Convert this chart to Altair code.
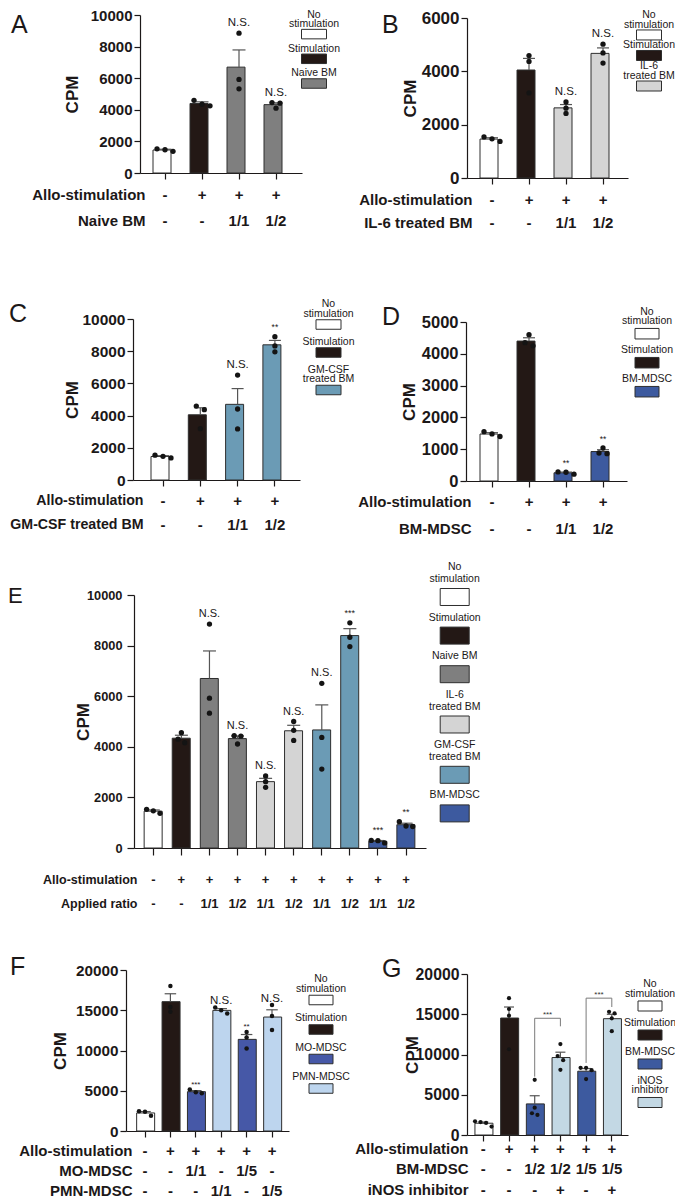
import json
import math
import altair as alt
import pandas as pd

# ---------------- values ----------------
A_groups = ["No stimulation", "Stimulation", "Naive BM", "Naive BM"]
A_values = [[1530, 1470, 1370], [4600, 4350, 4250], [8850, 5920, 5330], [4460, 4420, 4100]]
A_rows = [["-", "+", "+", "+"], ["-", "-", "1/1", "1/2"]]
A_header = ["Allo-stimulation", "Naive BM"]
A_sig = ["", "", "N.S.", "N.S."]
A_ticks = [0, 2000, 4000, 6000, 8000, 10000]
A_legend = ["No stimulation", "Stimulation", "Naive BM"]

B_groups = ["No stimulation", "Stimulation", "IL-6 treated BM", "IL-6 treated BM"]
B_values = [[1540, 1470, 1370], [4590, 4370, 3190], [2850, 2620, 2420], [5020, 4690, 4310]]
B_rows = [["-", "+", "+", "+"], ["-", "-", "1/1", "1/2"]]
B_header = ["Allo-stimulation", "IL-6 treated BM"]
B_sig = ["", "", "N.S.", "N.S."]
B_ticks = [0, 2000, 4000, 6000]
B_legend = ["No stimulation", "Stimulation", "IL-6 treated BM"]

C_groups = ["No stimulation", "Stimulation", "GM-CSF treated BM", "GM-CSF treated BM"]
C_values = [[1540, 1470, 1370], [4590, 4370, 3190], [6520, 4410, 3170], [8900, 8330, 7960]]
C_rows = [["-", "+", "+", "+"], ["-", "-", "1/1", "1/2"]]
C_header = ["Allo-stimulation", "GM-CSF treated BM"]
C_sig = ["", "", "N.S.", "**"]
C_ticks = [0, 2000, 4000, 6000, 8000, 10000]
C_legend = ["No stimulation", "Stimulation", "GM-CSF treated BM"]

D_groups = ["No stimulation", "Stimulation", "BM-MDSC", "BM-MDSC"]
D_values = [[1550, 1480, 1400], [4600, 4350, 4250], [285, 275, 215], [1040, 880, 860]]
D_rows = [["-", "+", "+", "+"], ["-", "-", "1/1", "1/2"]]
D_header = ["Allo-stimulation", "BM-MDSC"]
D_sig = ["", "", "**", "**"]
D_ticks = [0, 1000, 2000, 3000, 4000, 5000]
D_legend = ["No stimulation", "Stimulation", "BM-MDSC"]

E_groups = ["No stimulation", "Stimulation", "Naive BM", "Naive BM", "IL-6 treated BM",
            "IL-6 treated BM", "GM-CSF treated BM", "GM-CSF treated BM", "BM-MDSC", "BM-MDSC"]
E_values = [[1530, 1470, 1370], [4560, 4300, 4160], [8850, 5920, 5330], [4440, 4420, 4110],
            [2850, 2620, 2400], [5000, 4650, 4250], [6510, 4370, 3120], [8900, 8330, 7960],
            [300, 290, 200], [1040, 870, 850]]
E_rows = [["-", "+", "+", "+", "+", "+", "+", "+", "+", "+"],
          ["-", "-", "1/1", "1/2", "1/1", "1/2", "1/1", "1/2", "1/1", "1/2"]]
E_header = ["Allo-stimulation", "Applied ratio"]
E_sig = ["", "", "N.S.", "N.S.", "N.S.", "N.S.", "N.S.", "***", "***", "**"]
E_ticks = [0, 2000, 4000, 6000, 8000, 10000]
E_legend = ["No stimulation", "Stimulation", "Naive BM", "IL-6 treated BM",
            "GM-CSF treated BM", "BM-MDSC"]

F_groups = ["No stimulation", "Stimulation", "MO-MDSC", "PMN-MDSC", "MO-MDSC", "PMN-MDSC"]
F_values = [[2450, 2380, 1900], [18000, 15400, 14800], [5150, 4800, 4700],
            [15350, 15000, 14600], [12300, 11600, 10250], [15650, 14280, 12540]]
F_rows = [["-", "+", "+", "+", "+", "+"],
          ["-", "-", "1/1", "-", "1/5", "-"],
          ["-", "-", "-", "1/1", "-", "1/5"]]
F_header = ["Allo-stimulation", "MO-MDSC", "PMN-MDSC"]
F_sig = ["", "", "***", "N.S.", "**", "N.S."]
F_ticks = [0, 5000, 10000, 15000, 20000]
F_legend = ["No stimulation", "Stimulation", "MO-MDSC", "PMN-MDSC"]

G_groups = ["No stimulation", "Stimulation", "BM-MDSC", "iNOS inhibitor", "BM-MDSC", "iNOS inhibitor"]
G_values = [[1700, 1600, 1500, 1050], [17000, 15650, 14820, 10650], [6850, 3400, 2700, 2500],
            [11300, 9800, 9300, 8100], [8350, 8350, 8050, 6950], [15300, 15100, 14500, 12900]]
G_rows = [["-", "+", "+", "+", "+", "+"],
          ["-", "-", "1/2", "1/2", "1/5", "1/5"],
          ["-", "-", "-", "+", "-", "+"]]
G_header = ["Allo-stimulation", "BM-MDSC", "iNOS inhibitor"]
G_sig = ["", "", "", "", "", ""]
G_ticks = [0, 5000, 10000, 15000, 20000]
G_legend = ["No stimulation", "Stimulation", "BM-MDSC", "iNOS inhibitor"]
G_pair_left = [2, 4]
G_pair_right = [3, 5]
G_pair_top = [14500, 17000]
G_pair_left_end = [7250, 8950]
G_pair_right_end = [13500, 15900]
G_pair_sig = ["***", "***"]

LABELS = {
    "No stimulation": ["No", "stimulation"],
    "IL-6 treated BM": ["IL-6", "treated BM"],
    "GM-CSF treated BM": ["GM-CSF", "treated BM"],
    "iNOS inhibitor": ["iNOS", "inhibitor"],
}

# ---------------- styles / layout ----------------
CW, CH = 667, 1191          # drawing area; page coordinate = chart coordinate + 8
FONT = "Liberation Sans"
INK = "#1c1818"
EDGE = "#2e2e2e"
ERR = "#555555"
DOT = "#141414"
COLORS = {
    "No stimulation": "#ffffff",
    "Stimulation": "#231815",
    "Naive BM": "#7f7f7f",
    "IL-6 treated BM": "#d4d4d4",
    "GM-CSF treated BM": "#6b9bb5",
    "BM-MDSC": "#3d5a9f",
    "MO-MDSC": "#4658a7",
    "PMN-MDSC": "#bdd5ee",
    "iNOS inhibitor": "#c3d8e4",
}

BASE = dict(lfs=25, ytk=6, ylp=2, xtk=6, hfs=15, xfs=15, tfs=17, nfs=11.5, sfs=8.5, legfs=10.5)
LAY = {
    "A": dict(BASE, L=140, R=302, T=15, Bt=173, c1=165, step=37, bw=24, ymax=10000, yfs=15,
              ytx=-67.5, row1=194, ls=26, hdx=5, ldx=-129, lbase=18, d=5.3, dstep=8, th=5,
              cap=13, ndy=7, legcx=314, box=(25, 9.5), lstart=6.3, lh=9.5, g1=11.5, g2=16.6),
    "B": dict(BASE, L=467, R=628, T=18, Bt=178, c1=492, step=37, bw=24, ymax=6000, yfs=17,
              ytx=-56.7, row1=199, ls=23, hdx=5, ldx=-85, lbase=15, d=5.3, dstep=8, th=5,
              cap=12, ndy=7, legcx=649, box=(25, 10), lstart=4.5, lh=10, g1=12.5, g2=12),
    "C": dict(BASE, L=133, R=300, T=319, Bt=480, c1=163, step=37.3, bw=24, ymax=10000, yfs=15.5,
              ytx=-60.5, row1=500, ls=24, hdx=10, hfs=14.2, ldx=-124, lbase=3, d=5.3, dstep=8,
              th=5, cap=12, ndy=7, legcx=328.5, box=(25, 9.5), lstart=304, lh=9.5, g1=11, g2=17),
    "D": dict(BASE, L=466, R=627, T=322, Bt=481, c1=492, step=37, bw=24, ymax=5000, yfs=16.5,
              ytx=-56.3, row1=501.7, ls=26.6, hdx=5, ldx=-84, lbase=3, d=5.3, dstep=8, th=5,
              cap=12, ndy=5.5, legcx=647, box=(24, 10.5), lstart=311.7, lh=9.5, g1=12.5, g2=16.5),
    "E": dict(BASE, L=134, R=426, T=595, Bt=848, c1=153.3, step=28.08, bw=18.3, ymax=10000,
              yfs=12.8, lfs=22, ytk=7, ylp=5, xtk=7, xfs=13, hfs=12.5, nfs=11, sfs=9,
              ytx=-50.2, row1=879.3, ls=23.4, hdx=3, ldx=-126, lbase=8, d=5.3, dstep=6.7, th=5,
              cap=13, ndy=7, legcx=454.7, box=(29, 17), legfs=10.5, lstart=567.3, lh=11.7,
              g1=18, g2=20.6),
    "F": dict(BASE, L=126, R=289, T=970, Bt=1131, c1=145, step=25.4, bw=16.7, ymax=20000,
              yfs=15.3, ytx=-65.2, row1=1150.5, ls=20, hdx=6, ldx=-116, lbase=5, d=4.5,
              dstep=6, th=4.5, cap=11.5, ndy=3, sfs=8, legcx=321, box=(24, 9.5), lstart=979,
              lh=9.5, g1=11.5, g2=18),
    "G": dict(BASE, L=467, R=628, T=974, Bt=1135, c1=483.3, step=25.7, bw=16.7, ymax=20000,
              yfs=15.8, ytx=-54.2, row1=1148.3, ls=20.4, hdx=1, ldx=-85, lbase=3, d=4.2,
              dstep=5.5, th=4.5, cap=10, ndy=3, legcx=650, box=(24, 10), lstart=984,
              lh=9.5, g1=12.5, g2=16.5),
}


def spread(vals, ymax, h, th, step):
    """Horizontal offsets (px) so that overlapping dots sit side by side."""
    px = [v / ymax * h for v in vals]
    order = sorted(range(len(vals)), key=lambda k: -vals[k])
    clusters = []
    for k in order:
        if clusters and px[clusters[-1][-1]] - px[k] < th:
            clusters[-1].append(k)
        else:
            clusters.append([k])
    off = [0.0] * len(vals)
    for cl in clusters:
        m = len(cl)
        for j, k in enumerate(cl):
            off[k] = (j - (m - 1) / 2) * step
    return off


def panel(key, groups, values, rows, header, sig, ticks, pairs=None):
    lay = LAY[key]
    n = len(values)
    x0, x1 = lay["L"] - 8, lay["R"] - 8
    ytop, ybot = lay["T"] - 8, lay["Bt"] - 8
    W, H = x1 - x0, ybot - ytop
    step, bw = lay["step"], lay["bw"]
    p = 1 - bw / step
    o = (W / step - n + p) / 2
    left = W - step * (n - p)
    a = min(max((lay["c1"] - lay["L"] - bw / 2) / left, 0), 1)
    ymax = lay["ymax"]

    bars, dots, notes = [], [], []
    for i, (g, vals) in enumerate(zip(groups, values)):
        m = sum(vals) / len(vals)
        sd = math.sqrt(sum((v - m) ** 2 for v in vals) / (len(vals) - 1))
        se = sd / math.sqrt(len(vals))
        bars.append({"i": i, "mean": m, "top": m + se, "fill": COLORS[g]})
        for v, of in zip(vals, spread(vals, ymax, H, lay["th"], lay["dstep"])):
            dots.append({"i": i, "v": v, "off": of})
        if sig[i]:
            notes.append({"i": i, "y": max(max(vals), m + se), "t": sig[i],
                          "fs": lay["nfs"] if sig[i].startswith("N") else lay["sfs"]})

    labels = [[r[i] for r in rows] for i in range(n)]
    xfs = lay["xfs"]
    center = round(0.79 * xfs) - 0.35 * xfs
    lp = lay["row1"] - lay["Bt"] - center - lay["xtk"]

    xaxis = alt.Axis(
        orient="bottom", offset=ybot - CH,
        labelExpr=json.dumps(labels) + "[datum.value]", labelAngle=0, labelFont=FONT,
        labelFontSize=xfs, labelFontWeight="bold", labelColor=INK, labelLineHeight=lay["ls"],
        labelPadding=lp, labelOverlap=False, labelBaseline="top", tickSize=lay["xtk"],
        tickWidth=1.2, tickColor=INK, domainColor=INK, domainWidth=1.2, grid=False,
        title=header, titleFont=FONT, titleFontSize=lay["hfs"], titleFontWeight="bold",
        titleColor=INK, titleAlign="right", titleAngle=0, titleBaseline="top",
        titleX=x0 + lay["hdx"], titleY=lay["xtk"] + lp, titleLineHeight=lay["ls"])
    yaxis = alt.Axis(
        orient="left", offset=-x0,
        values=ticks, format="d", labelFont=FONT, labelFontSize=lay["yfs"],
        labelFontWeight="bold", labelColor=INK, labelPadding=lay["ylp"], labelOverlap=False,
        tickSize=lay["ytk"], tickWidth=1.2, tickColor=INK, domainColor=INK, domainWidth=1.2,
        grid=False, title="CPM", titleFont=FONT, titleFontSize=lay["tfs"],
        titleFontWeight="bold", titleColor=INK, titleAngle=270, titleAlign="center",
        titleBaseline="middle", titleX=lay["ytx"], titleY=ytop + H / 2)

    X = alt.X("i:O", scale=alt.Scale(range=[x0, x1], paddingInner=p, paddingOuter=o, align=a),
              axis=xaxis)
    Y = alt.Y("mean:Q", scale=alt.Scale(domain=[0, ymax], range=[ybot, ytop], nice=False),
              axis=yaxis)

    bdf = pd.DataFrame(bars)
    layers = [
        alt.Chart(bdf).mark_bar(stroke=EDGE, strokeWidth=1, opacity=1).encode(
            x=X, y=Y, fill=alt.Fill("fill:N", scale=None)),
        alt.Chart(bdf).mark_rule(color=ERR, strokeWidth=1.2).encode(
            x="i:O", y="mean:Q", y2="top:Q"),
        alt.Chart(bdf).mark_tick(color=ERR, thickness=1.2, size=lay["cap"], opacity=1).encode(
            x="i:O", y="top:Q"),
        alt.Chart(pd.DataFrame(dots)).mark_circle(size=lay["d"] ** 2, color=DOT, opacity=1).encode(
            x="i:O",
            xOffset=alt.XOffset("off:Q", scale=alt.Scale(domain=[-bw / 2, bw / 2], range=[0, bw])),
            y="v:Q"),
    ]
    if notes:
        layers.append(
            alt.Chart(pd.DataFrame(notes)).mark_text(
                font=FONT, baseline="alphabetic", dy=-lay["ndy"], color=INK).encode(
                x="i:O", y="y:Q", text="t:N", size=alt.Size("fs:Q", scale=None)))
    if pairs:
        pdf = pd.DataFrame(pairs)
        layers += [
            alt.Chart(pdf).mark_rule(color="#7a7a7a", strokeWidth=1).encode(
                x="l:O", x2=alt.X2("r"), y="top:Q"),
            alt.Chart(pdf).mark_rule(color="#7a7a7a", strokeWidth=1).encode(
                x="l:O", y="top:Q", y2="le:Q"),
            alt.Chart(pdf).mark_rule(color="#7a7a7a", strokeWidth=1).encode(
                x="r:O", y="top:Q", y2="re:Q"),
            alt.Chart(pdf).mark_text(fontSize=8, baseline="alphabetic", dy=-1.5, dx=step / 2,
                                     color="#333333", font=FONT).encode(
                x="l:O", y="top:Q", text="t:N"),
        ]
    layers.append(
        alt.Chart(pd.DataFrame({"t": [key]})).mark_text(
            font=FONT, fontSize=lay["lfs"], align="left", baseline="alphabetic",
            color=INK).encode(text="t:N", x=alt.value(x0 + lay["ldx"]),
                              y=alt.value(ytop + lay["lbase"])))
    return alt.layer(*layers)


def legend_positions(keys, start, lh, g1, g2):
    y = start
    texts, boxes = [], []
    for k in keys:
        lines = LABELS.get(k, [k])
        for j, ln in enumerate(lines):
            texts.append({"k": "a", "y": y + j * lh, "t": ln})
        yb = y + (len(lines) - 1) * lh + g1
        boxes.append({"k": "a", "y": yb, "f": COLORS[k]})
        y = yb + g2
    return texts, boxes


def legend(key, keys):
    lay = LAY[key]
    ytop, ybot = lay["T"] - 8, lay["Bt"] - 8
    H = ybot - ytop
    x1 = lay["R"] - 8
    w = 2 * (lay["legcx"] - lay["R"])
    lh, g1, g2 = lay["lh"], lay["g1"], lay["g2"]
    start = lay["lstart"] - lay["T"]
    texts, boxes = legend_positions(keys, start, lh, g1, g2)
    lim = 14.5 - lay["T"]
    if start < lim:
        # keep the last box in place and the line spacing; tighten only the gaps
        gaps = len(keys) * g1 + (len(keys) - 1) * g2
        f = (gaps - (lim - start)) / gaps
        texts, boxes = legend_positions(keys, lim, lh, g1 * f, g2 * f)
    bwid, bhei = lay["box"]
    r = bhei / bwid
    shape = f"M-1,-{r:.3f}L1,-{r:.3f}L1,{r:.3f}L-1,{r:.3f}Z"
    ys = alt.Scale(domain=[0, H], range=[ytop, ybot], nice=False, zero=False)
    xs = alt.X("k:N", axis=None, scale=alt.Scale(range=[x1, x1 + w]))
    box = alt.Chart(pd.DataFrame(boxes)).mark_point(
        shape=shape, size=bwid ** 2, filled=True, stroke=EDGE, strokeWidth=1, opacity=1).encode(
        x=xs, y=alt.Y("y:Q", axis=None, scale=ys), fill=alt.Fill("f:N", scale=None))
    txt = alt.Chart(pd.DataFrame(texts)).mark_text(
        font=FONT, fontSize=lay["legfs"], color=INK, baseline="middle").encode(
        x=xs, y=alt.Y("y:Q", axis=None, scale=ys), text="t:N")
    return alt.layer(box, txt)


pairs = [{"l": l, "r": r, "top": t, "le": le, "re": re, "t": s}
         for l, r, t, le, re, s in zip(G_pair_left, G_pair_right, G_pair_top,
                                        G_pair_left_end, G_pair_right_end, G_pair_sig)]
parts = [
    panel("A", A_groups, A_values, A_rows, A_header, A_sig, A_ticks),
    panel("B", B_groups, B_values, B_rows, B_header, B_sig, B_ticks),
    panel("C", C_groups, C_values, C_rows, C_header, C_sig, C_ticks),
    panel("D", D_groups, D_values, D_rows, D_header, D_sig, D_ticks),
    panel("E", E_groups, E_values, E_rows, E_header, E_sig, E_ticks),
    panel("F", F_groups, F_values, F_rows, F_header, F_sig, F_ticks),
    panel("G", G_groups, G_values, G_rows, G_header, G_sig, G_ticks, pairs),
    legend("A", A_legend),
    legend("B", B_legend),
    legend("C", C_legend),
    legend("D", D_legend),
    legend("E", E_legend),
    legend("F", F_legend),
    legend("G", G_legend),
]

chart = alt.layer(*parts).resolve_scale(
    x="independent", y="independent", xOffset="independent"
).resolve_axis(x="independent", y="independent").properties(
    width=CW, height=CH, padding=0, autosize=alt.AutoSizeParams(type="none")
).configure_view(strokeWidth=0)

chart.save("out.html", embed_options={"renderer": "svg", "actions": False})
